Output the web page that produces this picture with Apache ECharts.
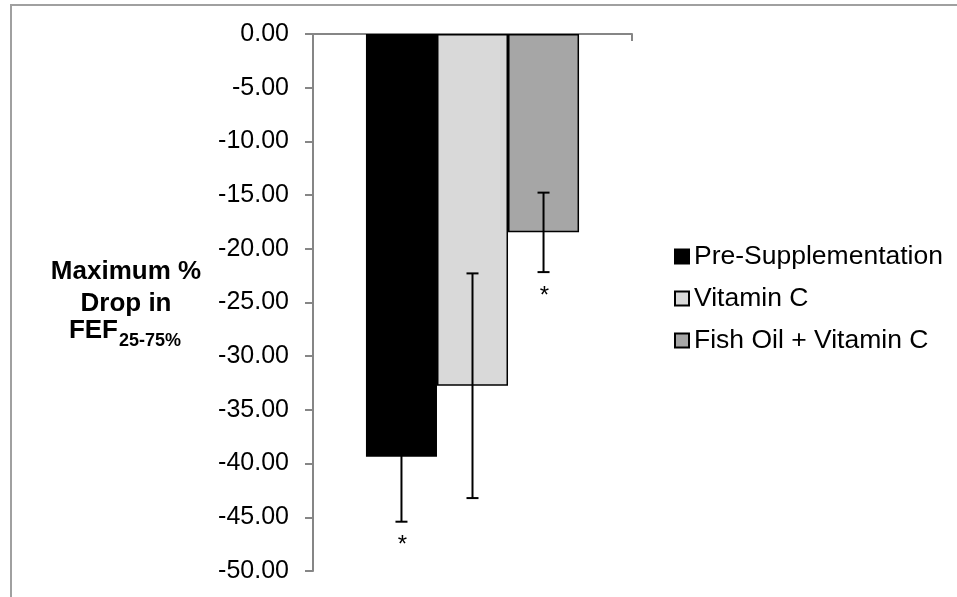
<!DOCTYPE html>
<html>
<head>
<meta charset="utf-8">
<script src="https://cdn.jsdelivr.net/npm/echarts@6/dist/echarts.min.js"></script>
<style>
  html, body { margin: 0; padding: 0; background: #fff; }
  #chart { width: 957px; height: 597px; }
</style>
</head>
<body>
<div id="chart"></div>
<script>
// Maximum % drop in FEF25-75% by supplementation phase
const categories = [''];
const seriesNames = ['Pre-Supplementation', 'Vitamin C', 'Fish Oil + Vitamin C'];
const meanDrop = [-39.36, -32.75, -18.47];
const errorSize = [6.05, 10.46, 3.70];
const significance = ['*', '', '*'];
const yTicks = { min: -50, max: 0, step: 5 };

const barColors = ['#000000', '#d9d9d9', '#a6a6a6'];
const FONT = '"Liberation Sans", Arial, sans-serif';
const CATEGORY_GAP = 0.332;

const chart = echarts.init(document.getElementById('chart'), null, { renderer: 'canvas' });

const barSeries = seriesNames.map((name, i) => ({
  name: name,
  type: 'bar',
  data: [meanDrop[i]],
  barGap: 0,
  barCategoryGap: (CATEGORY_GAP * 100) + '%',
  itemStyle: { color: barColors[i], borderColor: '#000', borderWidth: 1.5 },
  emphasis: { disabled: true },
  z: 2
}));

// error bars (mean ± error) plus significance marks below the lower whisker
const errorData = seriesNames.map((n, i) => [0, meanDrop[i] + errorSize[i], meanDrop[i] - errorSize[i], i]);

const errorSeries = {
  name: 'error',
  type: 'custom',
  data: errorData,
  z: 5,
  renderItem: function (params, api) {
    const slot = api.value(3);
    const band = api.size([1, 0])[0];
    const bw = band * (1 - CATEGORY_GAP) / 3;
    const cx = api.coord([api.value(0), 0])[0] + (slot - 1) * bw;
    const yHigh = api.coord([api.value(0), api.value(1)])[1];
    const yLow = api.coord([api.value(0), api.value(2)])[1];
    const cap = 6;
    const style = { stroke: '#000', lineWidth: 2 };
    const children = [
      { type: 'line', shape: { x1: cx, y1: yHigh, x2: cx, y2: yLow }, style: style },
      { type: 'line', shape: { x1: cx - cap, y1: yHigh, x2: cx + cap, y2: yHigh }, style: style },
      { type: 'line', shape: { x1: cx - cap, y1: yLow, x2: cx + cap, y2: yLow }, style: style }
    ];
    const mark = significance[params.dataIndex];
    if (mark) {
      children.push({
        type: 'text',
        x: cx + 1, y: yLow + 24,
        style: { text: mark, fontFamily: FONT, fontSize: 24, fill: '#000', align: 'center', verticalAlign: 'middle' }
      });
    }
    return { type: 'group', children: children };
  }
};

const option = {
  animation: false,
  backgroundColor: '#ffffff',
  grid: { left: 313, right: 325, top: 34, bottom: 26, containLabel: false },
  xAxis: {
    type: 'category',
    data: categories,
    position: 'bottom',
    axisLine: { show: true, onZero: true, lineStyle: { color: '#868686', width: 2 } },
    axisTick: { show: true, length: 7, alignWithLabel: false, lineStyle: { color: '#868686', width: 2 } },
    axisLabel: { show: false },
    splitLine: { show: false }
  },
  yAxis: {
    type: 'value',
    min: yTicks.min,
    max: yTicks.max,
    interval: yTicks.step,
    axisLine: { show: true, onZero: false, lineStyle: { color: '#868686', width: 2 } },
    axisTick: { show: true, length: 8, lineStyle: { color: '#868686', width: 2 } },
    axisLabel: {
      margin: 24,
      fontFamily: FONT,
      fontSize: 25,
      color: '#000',
      formatter: v => v.toFixed(2)
    },
    splitLine: { show: false }
  },
  legend: {
    data: seriesNames,
    orient: 'vertical',
    icon: 'rect',
    left: 674,
    top: 243,
    itemWidth: 14,
    itemHeight: 14,
    itemGap: 15,
    itemTextGap: 5,
    padding: 0,
    selectedMode: false,
    textStyle: { fontFamily: FONT, fontSize: 26.5, color: '#000' }
  },
  graphic: [
    {
      type: 'rect',
      shape: { x: 11, y: 5, width: 980, height: 640 },
      style: { fill: 'none', stroke: '#a0a0a0', lineWidth: 2 },
      silent: true,
      z: -1
    },
    {
      type: 'text', x: 126, y: 272,
      style: { text: 'Maximum %', fontFamily: FONT, fontWeight: 'bold', fontSize: 26, fill: '#000', align: 'center', verticalAlign: 'middle' }
    },
    {
      type: 'text', x: 126, y: 304,
      style: { text: 'Drop in', fontFamily: FONT, fontWeight: 'bold', fontSize: 26, fill: '#000', align: 'center', verticalAlign: 'middle' }
    },
    {
      type: 'text', x: 118, y: 331,
      style: { text: 'FEF', fontFamily: FONT, fontWeight: 'bold', fontSize: 26, fill: '#000', align: 'right', verticalAlign: 'middle' }
    },
    {
      type: 'text', x: 119, y: 341,
      style: { text: '25-75%', fontFamily: FONT, fontWeight: 'bold', fontSize: 18, fill: '#000', align: 'left', verticalAlign: 'middle' }
    }
  ],
  series: barSeries.concat([errorSeries])
};

chart.setOption(option);
</script>
</body>
</html>
